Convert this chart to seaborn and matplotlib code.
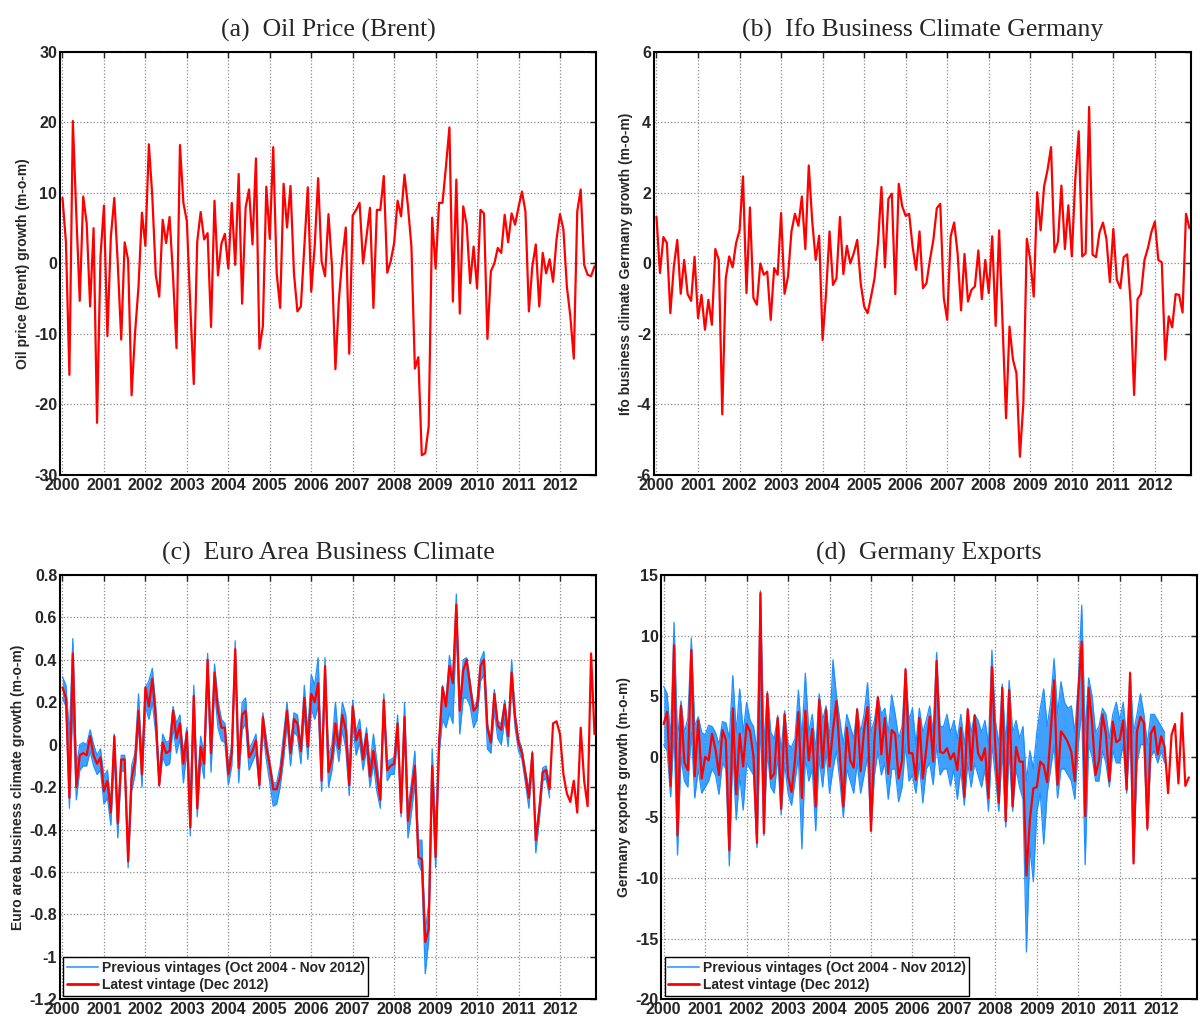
import numpy as np
import pandas as pd
import matplotlib
matplotlib.use("Agg")
import matplotlib.pyplot as plt
import seaborn as sns
from matplotlib.lines import Line2D

# monthly growth rates, Jan 2000 onwards
oil = [9.3, 3.0, -15.8, 20.2, 7.0, -5.3, 9.5, 5.7, -6.1, 5.0, -22.6, 1.0,
       8.2, -10.3, 3.8, 9.3, 0.0, -10.8, 3.0, 0.5, -18.7, -9.9, -3.3, 7.2,
       2.5, 16.9, 9.5, -1.6, -4.7, 6.2, 2.9, 6.6, -1.8, -12.0, 16.8, 8.6,
       6.0, -6.1, -17.1, 3.1, 7.3, 3.4, 4.3, -9.0, 8.9, -1.7, 2.8, 4.2,
       -0.7, 8.6, -0.2, 12.7, -5.7, 7.9, 10.5, 2.7, 14.9, -12.1, -8.9, 10.9,
       3.5, 16.5, -1.4, -6.3, 11.3, 5.1, 11.0, -1.4, -6.8, -6.1, 2.4, 10.8,
       -4.0, 2.4, 12.1, 0.3, -1.8, 7.0, -0.4, -15.0, -5.2, 0.8, 5.1, -12.8,
       6.8, 7.6, 8.6, 0.0, 3.8, 7.9, -6.3, 7.6, 7.6, 12.4, -1.3, 0.3,
       2.9, 8.9, 6.7, 12.6, 8.1, 2.4, -14.9, -13.3, -27.2, -26.9, -23.1, 6.5,
       -0.7, 8.6, 8.6, 13.8, 19.3, -5.4, 11.9, -7.1, 8.1, 5.5, -2.8, 2.4,
       -3.5, 7.6, 7.1, -10.7, -1.1, 0.0, 2.2, 1.5, 6.9, 3.0, 7.1, 5.5,
       8.0, 10.2, 7.4, -6.8, -0.4, 2.7, -6.1, 1.5, -1.4, 0.6, -2.6, 3.4,
       7.0, 4.8, -3.3, -7.5, -13.5, 7.4, 10.5, -0.2, -1.6, -1.8, -0.4]

ifo = [1.33, -0.27, 0.75, 0.58, -1.41, -0.10, 0.67, -0.86, 0.10, -0.87, -1.06, 0.19,
       -1.55, -0.89, -1.88, -1.03, -1.74, 0.41, 0.10, -4.28, -0.43, 0.20, -0.11, 0.58,
       0.94, 2.47, -0.84, 1.59, -0.98, -1.17, 0.00, -0.32, -0.23, -1.60, -0.13, -0.32,
       1.43, -0.86, -0.37, 0.91, 1.41, 1.07, 1.90, 0.41, 2.78, 1.19, 0.10, 0.79,
       -2.17, -0.84, 0.91, -0.61, -0.42, 1.32, -0.30, 0.50, 0.00, 0.29, 0.67, -0.56,
       -1.22, -1.41, -0.94, -0.42, 0.58, 2.17, -0.11, 1.83, 1.98, -0.87, 2.26, 1.62,
       1.35, 1.41, 0.48, -0.18, 0.91, -0.70, -0.56, 0.10, 0.67, 1.57, 1.69, -0.98,
       -1.60, 0.77, 1.16, 0.29, -1.33, 0.27, -1.08, -0.75, -0.65, 0.37, -1.01, 0.10,
       -0.84, 0.77, -1.77, 0.94, -1.69, -4.39, -1.79, -2.73, -3.11, -5.48, -3.97, 0.70,
       0.10, -0.94, 2.02, 0.94, 2.19, 2.66, 3.30, 0.32, 0.62, 2.21, 0.41, 1.65,
       0.20, 2.38, 3.75, 0.20, 0.29, 4.44, 0.25, 0.18, 0.88, 1.16, 0.70, -0.53,
       0.98, -0.46, -0.70, 0.18, 0.26, -1.13, -3.73, -1.01, -0.86, 0.10, 0.44, 0.89,
       1.19, 0.10, 0.03, -2.73, -1.50, -1.81, -0.87, -0.89, -1.39, 1.41, 1.00]

euro_latest = [0.27, 0.22, -0.25, 0.43, -0.20, -0.05, -0.04, -0.05, 0.04, -0.05, -0.09, -0.06,
               -0.22, -0.17, -0.32, 0.04, -0.37, -0.07, -0.07, -0.55, -0.16, -0.08, 0.16, -0.14,
               0.27, 0.18, 0.31, 0.13, -0.19, 0.01, -0.04, -0.03, 0.16, 0.03, 0.10, -0.09,
               0.06, -0.39, 0.23, -0.30, -0.01, -0.09, 0.40, -0.04, 0.34, 0.16, 0.08, 0.08,
               -0.14, -0.04, 0.45, -0.11, 0.14, 0.16, -0.06, -0.03, 0.02, -0.19, 0.13, -0.01,
               -0.10, -0.21, -0.21, -0.15, -0.01, 0.16, -0.04, 0.12, 0.10, -0.03, 0.22, -0.01,
               0.24, 0.20, 0.29, -0.17, 0.37, -0.13, -0.06, 0.10, -0.02, 0.14, 0.07, -0.19,
               0.18, 0.02, 0.07, -0.07, 0.05, -0.15, -0.03, -0.14, -0.26, 0.21, -0.12, -0.10,
               -0.09, 0.10, -0.32, 0.13, -0.36, -0.23, -0.10, -0.53, -0.54, -0.93, -0.87, -0.10,
               -0.53, 0.01, 0.27, 0.18, 0.37, 0.29, 0.66, 0.16, 0.35, 0.40, 0.27, 0.16,
               0.18, 0.37, 0.40, 0.08, 0.01, 0.24, 0.09, 0.07, 0.19, 0.04, 0.34, 0.13,
               0.01, -0.04, -0.14, -0.25, -0.04, -0.45, -0.31, -0.13, -0.12, -0.21, 0.10, 0.11,
               0.05, -0.14, -0.23, -0.27, -0.17, -0.32, 0.08, -0.17, -0.29, 0.43, 0.05]

# spread of the earlier vintages (upper / lower edge of the blue band)
euro_prev_hi = [0.32, 0.28, 0.05, 0.50, -0.10, 0.00, 0.01, 0.00, 0.07, 0.00, -0.05, -0.02,
                -0.15, -0.12, -0.28, 0.05, -0.33, -0.05, -0.05, -0.50, -0.10, -0.04, 0.24, -0.08,
                0.27, 0.30, 0.36, 0.18, -0.15, 0.05, 0.01, 0.02, 0.18, 0.10, 0.14, -0.05,
                0.08, -0.25, 0.28, -0.20, 0.04, -0.05, 0.43, 0.00, 0.38, 0.21, 0.12, 0.10,
                -0.10, 0.00, 0.49, -0.08, 0.20, 0.22, -0.02, 0.01, 0.05, -0.15, 0.15, 0.03,
                -0.08, -0.18, -0.18, -0.10, 0.05, 0.20, 0.00, 0.15, 0.14, 0.00, 0.28, 0.05,
                0.33, 0.28, 0.41, -0.10, 0.41, -0.05, 0.00, 0.20, 0.00, 0.20, 0.14, -0.13,
                0.21, 0.06, 0.12, -0.03, 0.08, -0.10, 0.05, -0.08, -0.22, 0.24, -0.08, -0.07,
                -0.06, 0.14, -0.28, 0.20, -0.30, -0.18, -0.03, -0.45, -0.45, -0.88, -0.75, -0.02,
                -0.40, 0.03, 0.28, 0.20, 0.42, 0.31, 0.71, 0.18, 0.40, 0.41, 0.30, 0.18,
                0.20, 0.40, 0.44, 0.10, 0.02, 0.26, 0.11, 0.10, 0.21, 0.06, 0.40, 0.15,
                0.03, -0.02, -0.12, -0.21, -0.03, -0.42, -0.29, -0.11, -0.10, -0.19]
euro_prev_lo = [0.22, 0.18, -0.30, 0.20, -0.26, -0.12, -0.10, -0.10, -0.03, -0.10, -0.14, -0.12,
                -0.28, -0.25, -0.38, -0.05, -0.44, -0.12, -0.13, -0.58, -0.22, -0.14, 0.10, -0.20,
                0.18, 0.12, 0.20, 0.05, -0.20, -0.06, -0.10, -0.09, 0.08, -0.04, 0.03, -0.18,
                -0.02, -0.43, 0.15, -0.34, -0.07, -0.16, 0.32, -0.13, 0.26, 0.08, 0.02, 0.01,
                -0.19, -0.10, 0.38, -0.18, 0.07, 0.10, -0.12, -0.08, -0.04, -0.21, 0.07, -0.07,
                -0.18, -0.29, -0.28, -0.20, -0.07, 0.10, -0.10, 0.06, 0.04, -0.09, 0.15, -0.07,
                0.17, 0.12, 0.18, -0.22, 0.30, -0.20, -0.12, 0.03, -0.08, 0.07, -0.02, -0.24,
                0.10, -0.05, 0.01, -0.12, -0.02, -0.20, -0.09, -0.22, -0.30, 0.14, -0.17, -0.14,
                -0.14, 0.03, -0.34, 0.05, -0.44, -0.32, -0.18, -0.56, -0.60, -1.08, -0.92, -0.18,
                -0.58, -0.05, 0.12, 0.08, 0.15, 0.10, 0.55, 0.05, 0.22, 0.22, 0.18, 0.08,
                0.12, 0.30, 0.33, -0.02, -0.04, 0.16, 0.03, 0.00, 0.12, -0.01, 0.28, 0.08,
                -0.03, -0.07, -0.18, -0.30, -0.08, -0.51, -0.36, -0.17, -0.16, -0.25]

exports_latest = [2.7, 3.7, -2.4, 9.2, -6.5, 4.2, -0.5, -1.1, 8.8, -1.6, 3.0, -1.8,
                  0.0, -0.3, 1.9, 0.6, -1.5, 2.2, 1.4, -7.7, 4.0, -3.1, 1.9, -0.8,
                  2.7, 2.1, 0.0, -7.1, 13.5, -6.3, 5.2, -1.8, -1.4, 3.2, -4.3, 3.5,
                  -1.6, -2.9, -0.3, 3.7, -3.4, 3.8, -0.3, 2.3, -4.1, 4.7, -0.9, 3.9,
                  -0.8, 2.2, 4.6, 0.1, -4.1, 2.4, -0.3, -0.9, 3.9, -1.2, 2.2, 4.1,
                  -6.1, 1.4, 4.9, 0.2, 3.2, -1.4, 2.2, 1.9, -1.8, -0.3, 7.2, 0.3,
                  0.3, -1.9, 3.2, -1.8, 0.6, 3.3, -0.4, 7.9, 0.4, 0.3, 0.7, -0.2,
                  0.3, -1.1, 2.4, -3.3, 3.9, -1.1, 3.4, 0.3, -0.3, 0.7, -3.4, 7.4,
                  0.8, -3.8, 5.7, -5.3, 5.5, -4.1, 0.8, -0.4, -0.4, -9.8, -5.2, -2.6,
                  -2.5, -0.4, -0.7, -2.1, 1.9, 6.3, -2.3, 2.1, 1.7, 1.2, 0.4, -2.0,
                  5.2, 9.5, -4.9, 5.7, 2.8, -1.5, -0.3, 3.5, 1.9, -2.0, 2.9, 1.2,
                  1.4, 3.0, -2.7, 6.9, -8.8, 2.1, 3.3, 2.8, -5.9, 1.9, 2.5, 0.2,
                  1.7, 0.8, -3.0, 1.8, 2.7, -2.2, 3.6, -2.4, -1.7]

exports_prev_hi = [5.8, 5.2, 1.5, 11.1, 1.5, 4.6, 2.0, 3.2, 9.8, 2.5, 3.3, 2.0,
                   1.8, 2.6, 2.5, 2.0, 1.0, 2.9, 2.8, 1.5, 6.7, 2.0, 5.6, 2.0,
                   4.5, 3.0, 2.5, 0.5, 13.7, 1.0, 5.4, 2.0, 1.5, 3.4, 0.5, 3.8,
                   1.0, 0.8, 1.5, 5.5, 1.5, 6.9, 2.0, 3.5, 0.5, 5.2, 3.0, 4.2,
                   1.5, 8.0, 5.0, 3.0, 1.0, 3.5, 2.5, 1.5, 4.0, 2.0, 3.5, 6.1,
                   2.0, 3.0, 5.0, 3.5, 4.0, 2.0, 5.1, 3.5, 1.5, 2.5, 7.3, 3.0,
                   4.0, 1.0, 4.0, 2.0, 3.0, 4.2, 2.0, 8.6, 2.5, 2.5, 3.5, 2.0,
                   3.0, 1.5, 3.5, 1.0, 4.0, 2.0, 3.5, 3.0, 2.0, 3.0, 1.0, 8.8,
                   3.0, 1.0, 6.0, 1.0, 6.3, 2.0, 3.0, 1.5, 2.5, -2.0, 0.5, -1.0,
                   2.0, 4.0, 5.6, 2.5, 4.5, 8.1, 3.5, 6.2, 4.5, 4.0, 4.2, 2.0,
                   6.0, 12.5, 2.0, 6.5, 5.0, 2.0, 2.5, 4.0, 3.5, 1.5, 3.5, 4.5,
                   3.0, 4.5, 1.5, 7.0, 2.0, 3.5, 5.2, 3.5, 1.0, 3.5, 3.5, 3.0,
                   2.5, 2.0]
exports_prev_lo = [1.0, 0.5, -3.3, 2.0, -8.1, 0.0, -2.0, -2.5, 2.0, -3.4, -1.0, -3.0,
                   -2.5, -2.0, -1.0, -1.5, -3.1, -0.5, -1.0, -9.0, 0.5, -5.2, -1.5, -4.4,
                   -0.5, -1.0, -1.5, -7.5, 3.0, -6.5, 0.5, -2.5, -3.0, 0.0, -4.8, -0.5,
                   -3.0, -4.0, -2.0, 0.0, -7.6, 0.0, -2.0, -1.0, -6.1, 0.0, -2.5, 0.5,
                   -3.0, -1.0, 0.5, -2.0, -5.0, -1.0, -2.0, -3.0, -0.5, -3.0, -1.5, 0.0,
                   -6.2, -1.5, 0.5, -1.5, -0.5, -3.5, -1.0, -1.0, -3.7, -2.5, 1.0, -2.0,
                   -1.5, -3.0, -0.5, -3.8, -1.0, -0.5, -2.3, 1.0, -1.5, -1.0, -1.0, -2.4,
                   -1.0, -3.5, -1.0, -4.0, -0.5, -2.5, -0.5, -1.5, -2.5, -1.0, -4.5, 1.0,
                   -1.5, -4.5, 0.5, -5.8, 0.5, -4.5, -1.0, -2.5, -3.5, -16.1, -7.5, -10.3,
                   -4.5, -3.0, -7.2, -3.0, -1.0, 1.0, -3.4, -1.0, -1.0, -1.5, -2.0, -3.5,
                   1.0, 4.0, -8.9, 1.0, 0.0, -2.0, -2.0, 0.5, -0.5, -2.5, 0.5, -0.5,
                   -0.5, 1.0, -3.0, 2.0, -8.8, -0.5, 1.0, 1.0, -6.1, 0.0, 0.5, -0.5,
                   0.5, -0.5]

years = list(range(2000, 2013))
RED = '#ff0000'
BLUE = '#1e90ff'


def monthly(values):
    n = len(values)
    return pd.DataFrame({'t': 2000 + np.arange(n) / 12.0, 'v': values})


def draw_band(ax, hi, lo):
    d_hi = monthly(hi)
    d_lo = monthly(lo)
    ax.fill_between(d_hi['t'], d_lo['v'], d_hi['v'], color=BLUE, lw=0, alpha=0.85)
    sns.lineplot(x='t', y='v', data=d_hi, ax=ax, color=BLUE, lw=0.9)
    sns.lineplot(x='t', y='v', data=d_lo, ax=ax, color=BLUE, lw=0.9)


def draw_latest(ax, values):
    sns.lineplot(x='t', y='v', data=monthly(values), ax=ax, color=RED, lw=1.6)


def style_axis(ax, title, ylabel, yticks, ylabels):
    ax.set_xlim(1999.94, 2012.87)
    ax.set_ylim(yticks[0], yticks[-1])
    ax.set_xticks(years)
    ax.set_xticklabels([str(y) for y in years], fontweight='bold', fontsize=11.5)
    ax.set_yticks(yticks)
    ax.set_yticklabels(ylabels, fontweight='bold', fontsize=11.5)
    ax.grid(True, linestyle=':', color='#8a8a8a', linewidth=0.9)
    ax.tick_params(direction='in', top=True, right=True, length=4, width=1, pad=2)
    for s in ax.spines.values():
        s.set_linewidth(1.5)
        s.set_color('black')
    ax.set_title(title, family=['Liberation Serif', 'DejaVu Serif'], fontsize=18.5, pad=11)
    ax.set_xlabel('')
    ax.set_ylabel(ylabel, fontweight='bold', fontsize=10, labelpad=3)


def add_legend(ax):
    handles = [Line2D([], [], color='#5aa9ff', lw=1.5), Line2D([], [], color=RED, lw=2)]
    labels = ['Previous vintages (Oct 2004 - Nov 2012)', 'Latest vintage (Dec 2012)']
    leg = ax.legend(handles, labels, loc='lower left', frameon=True, fancybox=False,
                    edgecolor='black', framealpha=1, prop={'weight': 'bold', 'size': 10},
                    handlelength=2.2, handletextpad=0.3, borderpad=0.25, labelspacing=0.25,
                    borderaxespad=0.25)
    leg.get_frame().set_linewidth(1.0)


sns.set_theme(style='white')
plt.rcParams['font.family'] = ['Liberation Sans', 'DejaVu Sans']

fig = plt.figure(figsize=(12, 10.23), dpi=100)
ax_a = fig.add_axes([0.050, 0.5357, 0.4467, 0.4135])
ax_b = fig.add_axes([0.545, 0.5357, 0.4475, 0.4135])
ax_c = fig.add_axes([0.050, 0.0232, 0.4467, 0.4148])
ax_d = fig.add_axes([0.551, 0.0232, 0.4467, 0.4148])

# (a) oil price
draw_latest(ax_a, oil)
style_axis(ax_a, '(a)  Oil Price (Brent)', 'Oil price (Brent) growth (m-o-m)',
           [-30, -20, -10, 0, 10, 20, 30], ['-30', '-20', '-10', '0', '10', '20', '30'])

# (b) Ifo
draw_latest(ax_b, ifo)
style_axis(ax_b, '(b)  Ifo Business Climate Germany', 'Ifo business climate Germany growth (m-o-m)',
           [-6, -4, -2, 0, 2, 4, 6], ['-6', '-4', '-2', '0', '2', '4', '6'])

# (c) euro area business climate
draw_band(ax_c, euro_prev_hi, euro_prev_lo)
draw_latest(ax_c, euro_latest)
c_ticks = [-1.2, -1.0, -0.8, -0.6, -0.4, -0.2, 0.0, 0.2, 0.4, 0.6, 0.8]
c_labels = ['-1.2', '-1', '-0.8', '-0.6', '-0.4', '-0.2', '0', '0.2', '0.4', '0.6', '0.8']
style_axis(ax_c, '(c)  Euro Area Business Climate', 'Euro area business climate growth (m-o-m)',
           c_ticks, c_labels)
add_legend(ax_c)

# (d) German exports
draw_band(ax_d, exports_prev_hi, exports_prev_lo)
draw_latest(ax_d, exports_latest)
style_axis(ax_d, '(d)  Germany Exports', 'Germany exports growth (m-o-m)',
           [-20, -15, -10, -5, 0, 5, 10, 15], ['-20', '-15', '-10', '-5', '0', '5', '10', '15'])
add_legend(ax_d)

fig.savefig('out.png', dpi=100)
